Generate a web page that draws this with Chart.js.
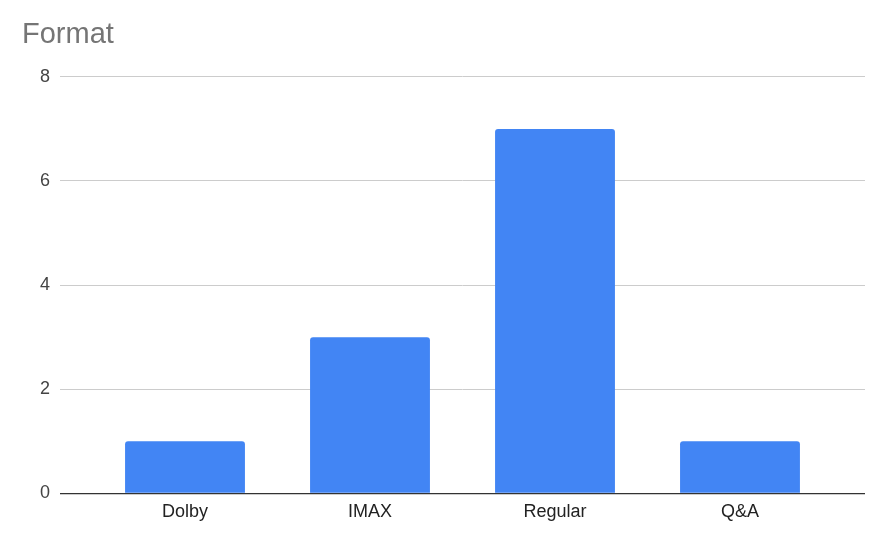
<!DOCTYPE html>
<html>
<head>
<meta charset="utf-8">
<script src="https://cdn.jsdelivr.net/npm/chart.js@4/dist/chart.umd.min.js"></script>
<style>
  html, body { margin: 0; padding: 0; background: #fff; }
  #wrap { width: 883px; height: 542px; position: relative; }
</style>
</head>
<body>
<div id="wrap"><canvas id="c" width="883" height="542"></canvas></div>
<script>
const title = 'Format';
const categories = ['Dolby', 'IMAX', 'Regular', 'Q&A'];
const values = [1, 3, 7, 1];
const yTicks = [0, 2, 4, 6, 8];

const points = categories.map((c, i) => ({ x: i + 1, y: values[i] }));
const FONT = '"Liberation Sans", Arial, sans-serif';

new Chart(document.getElementById('c'), {
  type: 'bar',
  data: {
    datasets: [{
      data: points,
      backgroundColor: '#4285F4',
      borderRadius: { topLeft: 3, topRight: 3 },
      borderSkipped: 'bottom',
      categoryPercentage: 1,
      barPercentage: 0.648
    }]
  },
  options: {
    responsive: false,
    animation: false,
    layout: { padding: { left: 22, right: 18, top: 0, bottom: 19 } },
    plugins: {
      legend: { display: false },
      tooltip: { enabled: false },
      title: {
        display: true,
        text: title,
        align: 'start',
        color: '#757575',
        font: { family: FONT, size: 29, weight: 'normal' },
        padding: { top: 18, bottom: 24 }
      }
    },
    scales: {
      x: {
        type: 'linear',
        offset: false,
        min: 0.3243,
        max: 4.6757,
        grid: { display: false },
        border: { display: false },
        afterBuildTicks: (s) => { s.ticks = categories.map((c, i) => ({ value: i + 1 })); },
        ticks: {
          autoSkip: false,
          maxRotation: 0,
          padding: 0,
          color: '#222',
          font: { family: FONT, size: 18 },
          callback: (v) => categories[Math.round(v) - 1] || ''
        }
      },
      y: {
        min: 0,
        max: 8,
        afterBuildTicks: (s) => { s.ticks = yTicks.map(v => ({ value: v })); },
        afterFit: (s) => { s.width = 38; },
        border: { display: false },
        grid: {
          drawTicks: false,
          color: (ctx) => ctx.tick && ctx.tick.value === 0 ? '#333333' : '#cccccc',
          lineWidth: (ctx) => ctx.tick && ctx.tick.value === 0 ? 1.3 : 1
        },
        ticks: {
          padding: 10,
          color: '#444',
          font: { family: FONT, size: 18 }
        }
      }
    }
  }
});
</script>
</body>
</html>
